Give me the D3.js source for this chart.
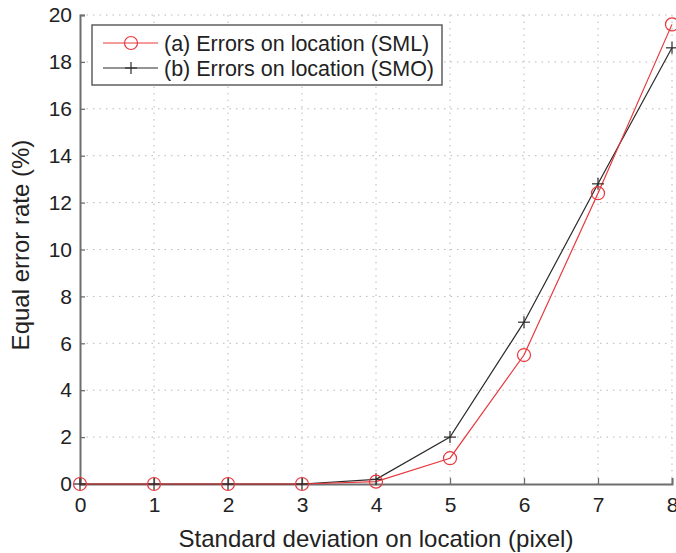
<!DOCTYPE html>
<html>
<head>
<meta charset="utf-8">
<script src="https://cdn.jsdelivr.net/npm/d3@7"></script>
<style>
  html, body { margin: 0; padding: 0; background: #fff; }
  svg { display: block; font-family: "Liberation Sans", Arial, Helvetica, sans-serif; }
</style>
</head>
<body>
<svg id="chart" width="676" height="553"></svg>
<script>
// Standard deviation on location (pixel)
const sigma = [0, 1, 2, 3, 4, 5, 6, 7, 8];
// Equal error rate (%) for each method
const eerSML = [0, 0, 0, 0, 0.1, 1.1, 5.5, 12.4, 19.6];
const eerSMO = [0, 0, 0, 0, 0.2, 2.0, 6.9, 12.8, 18.6];
const seriesNames = ["(a) Errors on location (SML)", "(b) Errors on location (SMO)"];
const xTicks = [0, 1, 2, 3, 4, 5, 6, 7, 8];
const yTicks = [0, 2, 4, 6, 8, 10, 12, 14, 16, 18, 20];

const svg = d3.select("#chart");
const plotL = 80, plotR = 672, plotT = 15, plotB = 484;

const x = d3.scaleLinear().domain([0, 8]).range([plotL, plotR]);
const y = d3.scaleLinear().domain([0, 20]).range([plotB, plotT]);

// dotted grid
const grid = svg.append("g");
grid.selectAll("line.vx").data(xTicks.slice(1)).join("line")
  .attr("x1", d => x(d)).attr("x2", d => x(d))
  .attr("y1", plotT).attr("y2", plotB)
  .attr("stroke", "#b8b8b8").attr("stroke-width", 1).attr("stroke-dasharray", "1.5,5");
grid.selectAll("line.hy").data(yTicks.slice(1)).join("line")
  .attr("x1", plotL).attr("x2", plotR)
  .attr("y1", d => y(d)).attr("y2", d => y(d))
  .attr("stroke", "#b8b8b8").attr("stroke-width", 1).attr("stroke-dasharray", "1.5,5");

// axes
const xAxis = d3.axisBottom(x).tickValues(xTicks).tickSize(-6).tickPadding(13).tickFormat(d3.format("d"));
const yAxis = d3.axisLeft(y).tickValues(yTicks).tickSize(-5).tickPadding(8).tickFormat(d3.format("d"));

const gx = svg.append("g").attr("transform", `translate(0,${plotB})`).call(xAxis);
const gy = svg.append("g").attr("transform", `translate(${plotL},0)`).call(yAxis);
[gx, gy].forEach(g => {
  g.select(".domain").attr("stroke", "#6e6e6e").attr("stroke-width", 2);
  g.selectAll(".tick line").attr("stroke", "#6e6e6e").attr("stroke-width", 1.3);
  g.selectAll(".tick text").attr("fill", "#222").attr("font-size", 21)
    .attr("font-family", "'Liberation Sans', Arial, sans-serif");
});
gx.selectAll(".tick text").attr("dy", "0.71em");

// axis titles
svg.append("text").attr("x", 376).attr("y", 547)
  .attr("text-anchor", "middle").attr("font-size", 24).attr("fill", "#222")
  .text("Standard deviation on location (pixel)");
svg.append("text").attr("transform", "translate(29,245) rotate(-90)")
  .attr("text-anchor", "middle").attr("font-size", 24).attr("fill", "#222")
  .text("Equal error rate (%)");

// lines
const line = d3.line().x((d, i) => x(sigma[i])).y(d => y(d));
const red = "#e8383d", black = "#2a2a2a";

svg.append("path").datum(eerSMO).attr("d", line)
  .attr("fill", "none").attr("stroke", black).attr("stroke-width", 1.2);
svg.append("path").datum(eerSML).attr("d", line)
  .attr("fill", "none").attr("stroke", red).attr("stroke-width", 1.2);

// markers: plus for SMO, circles for SML
const plus = (g, cx, cy, s, color) => {
  g.append("line").attr("x1", cx - s).attr("x2", cx + s).attr("y1", cy).attr("y2", cy)
    .attr("stroke", color).attr("stroke-width", 1.2);
  g.append("line").attr("x1", cx).attr("x2", cx).attr("y1", cy - s).attr("y2", cy + s)
    .attr("stroke", color).attr("stroke-width", 1.2);
};
const mk = svg.append("g");
eerSMO.forEach((v, i) => plus(mk, x(sigma[i]), y(v), 6, black));
mk.selectAll("circle").data(eerSML).join("circle")
  .attr("cx", (d, i) => x(sigma[i])).attr("cy", d => y(d)).attr("r", 6.5)
  .attr("fill", "none").attr("stroke", red).attr("stroke-width", 1.2);

// legend
const lg = svg.append("g").attr("transform", "translate(92,25)");
lg.append("rect").attr("width", 350).attr("height", 60)
  .attr("fill", "#fff").attr("stroke", "#555").attr("stroke-width", 1.4);
const rows = [
  { name: seriesNames[0], color: red, kind: "circle" },
  { name: seriesNames[1], color: black, kind: "plus" }
];
rows.forEach((r, i) => {
  const cy = 18 + i * 25;
  lg.append("line").attr("x1", 11).attr("x2", 66).attr("y1", cy).attr("y2", cy)
    .attr("stroke", r.color).attr("stroke-width", 1.2);
  if (r.kind === "circle") {
    lg.append("circle").attr("cx", 39).attr("cy", cy).attr("r", 6.5)
      .attr("fill", "none").attr("stroke", r.color).attr("stroke-width", 1.2);
  } else {
    plus(lg, 39, cy, 6, r.color);
  }
  lg.append("text").attr("x", 72).attr("y", cy).attr("dy", "0.36em")
    .attr("font-size", 21.5).attr("fill", "#222").text(r.name);
});
</script>
</body>
</html>
